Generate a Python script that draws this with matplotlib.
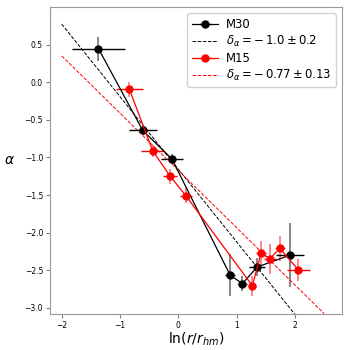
import matplotlib
matplotlib.use("Agg")
import matplotlib.pyplot as plt
import numpy as np

# M30 data
m30_x = [-1.37, -0.61, -0.11, 0.89, 1.10, 1.35, 1.92]
m30_y = [0.45, -0.64, -1.02, -2.57, -2.68, -2.46, -2.30]
m30_xerr = [0.45, 0.24, 0.19, 0.09, 0.08, 0.13, 0.24]
m30_yerr = [0.16, 0.06, 0.07, 0.28, 0.10, 0.12, 0.43]

# M15 data
m15_x = [-0.84, -0.44, -0.14, 0.13, 1.27, 1.42, 1.57, 1.74, 2.06]
m15_y = [-0.09, -0.91, -1.25, -1.51, -2.71, -2.27, -2.35, -2.21, -2.50]
m15_xerr = [0.23, 0.20, 0.12, 0.10, 0.07, 0.08, 0.10, 0.09, 0.19]
m15_yerr = [0.10, 0.08, 0.10, 0.10, 0.13, 0.16, 0.20, 0.17, 0.15]

# Fits: slope, intercept, x-range
fit_slopes = [-0.967, -0.763]
fit_intercepts = [-1.157, -1.173]
fit_ranges = [(-2.0, 2.0), (-2.0, 2.5)]
fit_labels = [r"$\delta_\alpha = -\:1.0 \pm 0.2$", r"$\delta_\alpha = -\:0.77 \pm 0.13$"]

fig = plt.figure(figsize=(3.5, 3.5), dpi=100)
ax = fig.add_axes([0.143, 0.104, 0.833, 0.875])

def draw(x, y, xerr, yerr, color, label):
    ax.errorbar(x, y, yerr=yerr, fmt="none", ecolor=color, alpha=0.55, elinewidth=1.2, zorder=2)
    return ax.errorbar(x, y, xerr=xerr, fmt="o-", color=color, ms=5, lw=0.9,
                       elinewidth=1.0, label=label, zorder=3)

handles = []
handles.append(draw(m30_x, m30_y, m30_xerr, m30_yerr, "black", "M30"))
xs = np.linspace(*fit_ranges[0], 2)
handles += ax.plot(xs, fit_slopes[0] * xs + fit_intercepts[0], "--", color="black", lw=0.7, label=fit_labels[0])
handles.append(draw(m15_x, m15_y, m15_xerr, m15_yerr, "red", "M15"))
xs = np.linspace(*fit_ranges[1], 2)
handles += ax.plot(xs, fit_slopes[1] * xs + fit_intercepts[1], "--", color="red", lw=0.7, label=fit_labels[1])

ax.set_xlim(-2.2, 2.8)
ax.set_ylim(-3.08, 1.0)
ax.set_xticks([-2, -1, 0, 1, 2])
ax.set_yticks([0.5, 0.0, -0.5, -1.0, -1.5, -2.0, -2.5, -3.0])
ax.tick_params(labelsize=5.5, color="gray", length=3, width=0.8, pad=2)
for s in ax.spines.values():
    s.set_color("#999999")
ax.set_xlabel(r"$\ln(r/r_{hm})$", fontsize=10, labelpad=1)
ax.set_ylabel(r"$\alpha$", fontsize=10, rotation=0, labelpad=11, va="center")

ax.legend(handles=handles, labels=[h.get_label() for h in handles],
          loc="upper right", fontsize=8.4, handlelength=2.2, handletextpad=0.7,
          labelspacing=0.25, borderaxespad=0.5, framealpha=0.9)

fig.savefig("out.png", dpi=100)
